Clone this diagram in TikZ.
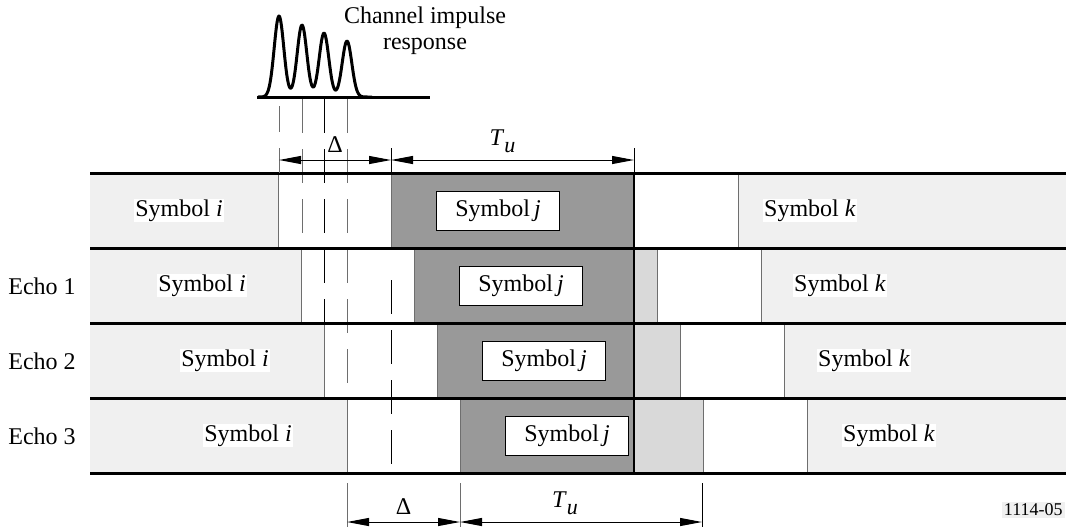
\documentclass[tikz,border=0pt]{standalone}
\usepackage{fontspec}
\setmainfont{Liberation Serif}
\usetikzlibrary{arrows.meta}
\definecolor{symgray}{RGB}{240,240,240}
\definecolor{fftgray}{RGB}{153,153,153}
\definecolor{tailgray}{RGB}{217,217,217}
\definecolor{edgegray}{RGB}{110,110,110}
\newcommand{\tuseful}{\textit{T}\raisebox{-3.5pt}{\fontsize{11}{12}\selectfont\textit{u}}}

\begin{document}
\begin{tikzpicture}[x=0.5pt, y=-0.5pt, every node/.style={font=\fontsize{12}{13}\selectfont},
    rowline/.style={line width=1.5pt},
    edge/.style={edgegray, line width=0.5pt},
    dashline/.style={line width=0.5pt, dash pattern=on 17pt off 8pt},
    dimline/.style={{Triangle[length=11pt,width=4pt]}-{Triangle[length=11pt,width=4pt]}, line width=0.5pt},
    symlabel/.style={fill=white, inner sep=0.5pt},
    jbox/.style={draw, fill=white, line width=0.5pt, minimum width=61.5pt, minimum height=19.5pt}]
    \useasboundingbox (0,0) rectangle (1066,527);

    % Channel impulse response
    \draw[line width=1.5pt, line join=round] plot[domain=258:372, samples=160, smooth]
        (\x, {97 - 81*exp(-((\x-279)/6.8)*((\x-279)/6.8)) - 72*exp(-((\x-302)/6.8)*((\x-302)/6.8))
              - 64*exp(-((\x-324)/6.8)*((\x-324)/6.8)) - 56*exp(-((\x-347)/6.8)*((\x-347)/6.8))});
    \draw[line width=1.5pt] (257,97) -- (430,97);
    \node[align=center] (cir) at (425,31) {Channel impulse\\response};

    % Symbol rows (direct path and echoes)
    \foreach \r/\kx in {0/810,1/840,2/864,3/889} {
        \pgfmathsetmacro\d{23*\r}
        \pgfmathsetmacro\t{173+75*\r}
        \pgfmathsetmacro\b{248+75*\r}
        \fill[symgray] (90,\t) rectangle (278+\d,\b);
        \fill[fftgray] (391+\d,\t) rectangle (634,\b);
        \fill[tailgray] (634,\t) rectangle (634+\d,\b);
        \fill[symgray] (738+\d,\t) rectangle (1066,\b);
        \draw[edge] (278+\d,\t) -- (278+\d,\b);
        \draw[edge] (391+\d,\t) -- (391+\d,\b);
        \draw[edge] (634+\d,\t) -- (634+\d,\b);
        \draw[edge] (738+\d,\t) -- (738+\d,\b);
        \draw[line width=0.6pt] (634,\t) -- (634,\b);
        \node[symlabel] (symi\r) at (179+\d,{210.5+75*\r}) {Symbol \textit{i}};
        \node[jbox] (symj\r) at (498+\d,{210.5+75*\r}) {Symbol\,\textit{j}};
        \node[symlabel] (symk\r) at (\kx,{210.5+75*\r}) {Symbol \textit{k}};
    }

    % Dashed echo delay lines
    \draw[dashline, edgegray] (279,106) -- (279,132);
    \draw[dashline, edgegray] (302,99) -- (302,248);
    \draw[dashline] (324,99) -- (324,323);
    \draw[dashline, edgegray] (347,99) -- (347,398);
    \draw[dashline] (391,280) -- (391,473);

    % Row separators
    \foreach \r in {0,...,4}
        \draw[rowline] (90,{173+75*\r}) -- (1066,{173+75*\r});

    % Echo labels
    \node (echo1) at (42,286) {Echo 1};
    \node (echo2) at (42,361) {Echo 2};
    \node (echo3) at (42,436) {Echo 3};

    % Top dimensions
    \coordinate (ta) at (279,160);
    \coordinate (tb) at (391,160);
    \coordinate (tc) at (634,160);
    \draw[edge] (279,148) -- (279,173);
    \draw[black, line width=0.5pt] (391,148) -- (391,173);
    \draw[black, line width=0.5pt] (634,148) -- (634,173);
    \draw[dimline] (ta) -- node[above] {Δ} (tb);
    \draw[dimline] (tb) -- node[above, xshift=-5pt] {\tuseful} (tc);

    % Bottom dimensions
    \coordinate (ba) at (347,522);
    \coordinate (bb) at (460,522);
    \coordinate (bc) at (702,522);
    \draw[edge] (347,483) -- (347,527);
    \draw[edge] (460,483) -- (460,527);
    \draw[black, line width=0.5pt] (702,483) -- (702,527);
    \draw[dimline] (ba) -- node[above] {Δ} (bb);
    \draw[dimline] (bb) -- node[above, xshift=-8pt] {\tuseful} (bc);

    \node[fill=symgray, inner sep=1pt, anchor=east, font=\fontsize{9}{10}\selectfont] (figno) at (1065,510) {1114-05};
\end{tikzpicture}
\end{document}
